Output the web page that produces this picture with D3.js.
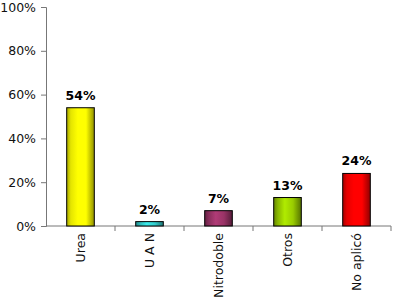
<!DOCTYPE html>
<html><head><meta charset="utf-8">
<script src="https://cdn.jsdelivr.net/npm/d3@7"></script>
<style>body{margin:0;background:#fff}svg{display:block}</style>
</head><body><svg id="c" width="394" height="300"></svg>
<script>
const categories = ["Urea", "U A N", "Nitrodoble", "Otros", "No aplicó"];
const values = [0.54, 0.02, 0.07, 0.13, 0.24];
const valueLabels = ["54%", "2%", "7%", "13%", "24%"];
const colors = ["#ffff00", "#33cccc", "#993366", "#99cc00", "#ff0000"];
const yTicks = [0, 0.2, 0.4, 0.6, 0.8, 1.0];

const svg = d3.select("#c");
const font = "DejaVu Sans, Verdana, sans-serif";
const x = d3.scaleBand().domain(categories).range([46, 391]).paddingInner(0.6).paddingOuter(0.3);
const y = d3.scaleLinear().domain([0, 1]).range([226, 7]);
const step = x.step();

const defs = svg.append("defs");
colors.forEach((c, i) => {
  const g = defs.append("linearGradient").attr("id", "g" + i).attr("x1", "0").attr("x2", "1").attr("y1", "0").attr("y2", "0");
  const base = d3.color(c);
  g.append("stop").attr("offset", "0").attr("stop-color", base.darker(1.2));
  g.append("stop").attr("offset", "0.15").attr("stop-color", base.darker(0.3));
  g.append("stop").attr("offset", "0.4").attr("stop-color", base.brighter(0.4));
  g.append("stop").attr("offset", "0.7").attr("stop-color", base);
  g.append("stop").attr("offset", "1").attr("stop-color", base.darker(1.6));
});

// y axis
const yAxis = d3.axisLeft(y).tickValues(yTicks).tickFormat(d3.format(".0%")).tickSize(5).tickPadding(5);
const ya = svg.append("g").attr("transform", "translate(46,0)").call(yAxis);
ya.select(".domain").attr("stroke", "#777");
ya.selectAll(".tick line").attr("stroke", "#777");
ya.selectAll("text").attr("font-family", font).attr("font-size", 12.5).attr("fill", "#111");

// x axis
const xa = svg.append("g").attr("transform", "translate(0,226)");
xa.append("line").attr("x1", 46).attr("x2", 391).attr("stroke", "#777");
categories.forEach((c, i) => {
  const bx = x.range()[0] + step * (i + 1);
  xa.append("line").attr("x1", bx).attr("x2", bx).attr("y1", 0).attr("y2", 5).attr("stroke", "#777");
});
xa.selectAll("text.cat").data(categories).enter().append("text")
  .attr("class", "cat")
  .attr("transform", d => `translate(${x(d) + x.bandwidth() / 2 + 4.5},7) rotate(-90)`)
  .attr("text-anchor", "end")
  .attr("font-family", font).attr("font-size", 12.5).attr("fill", "#111")
  .text(d => d);

// bars
svg.selectAll("rect.bar").data(values).enter().append("rect")
  .attr("class", "bar")
  .attr("x", (d, i) => x(categories[i]))
  .attr("width", x.bandwidth())
  .attr("y", d => y(d))
  .attr("height", d => y(0) - y(d))
  .attr("fill", (d, i) => `url(#g${i})`)
  .attr("stroke", "#000").attr("stroke-width", 1);

svg.selectAll("text.val").data(values).enter().append("text")
  .attr("class", "val")
  .attr("x", (d, i) => x(categories[i]) + x.bandwidth() / 2)
  .attr("y", d => y(d) - 8)
  .attr("text-anchor", "middle")
  .attr("font-family", font).attr("font-size", 12.5).attr("font-weight", "bold").attr("fill", "#000")
  .text((d, i) => valueLabels[i]);
</script></body></html>
